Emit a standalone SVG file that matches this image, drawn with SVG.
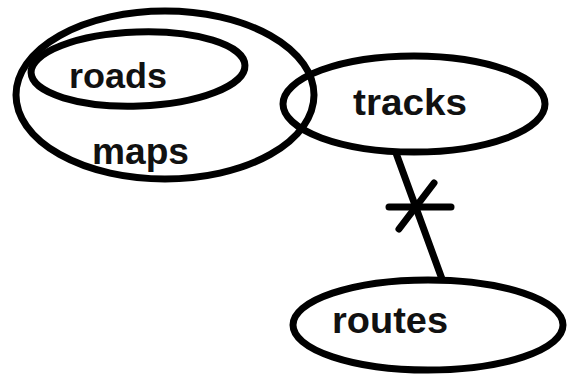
<svg xmlns="http://www.w3.org/2000/svg" width="569" height="376" viewBox="0 0 569 376">
<style>
.e{fill:none;stroke:#000;stroke-width:7}
.t{font-family:"Liberation Sans",Arial,sans-serif;font-weight:bold;fill:#111;}
.c{stroke:#000;stroke-width:7;fill:none;stroke-linecap:round}
</style>
<rect width="569" height="376" fill="#fff"/>
<g id="maps">
<ellipse class="e" cx="165" cy="95" rx="149" ry="84"/>
<text class="t" x="92" y="164" font-size="36" textLength="97" lengthAdjust="spacingAndGlyphs">maps</text>
</g>
<g id="roads">
<ellipse class="e" cx="138" cy="69" rx="107" ry="37" transform="rotate(-2 138 69)"/>
<text class="t" x="69" y="88" font-size="35" textLength="98" lengthAdjust="spacingAndGlyphs">roads</text>
</g>
<g id="tracks">
<ellipse class="e" cx="414" cy="104" rx="131" ry="48"/>
<text class="t" x="353" y="115" font-size="37" textLength="114" lengthAdjust="spacingAndGlyphs">tracks</text>
</g>
<g id="routes">
<ellipse class="e" cx="428" cy="325" rx="135" ry="45"/>
<text class="t" x="332" y="333" font-size="37" textLength="116" lengthAdjust="spacingAndGlyphs">routes</text>
</g>
<g id="connectors">
<line class="c" x1="396" y1="153" x2="442" y2="279"/>
<line class="c" x1="389" y1="207" x2="451" y2="207"/>
<line class="c" x1="399" y1="229" x2="434" y2="183"/>
</g>
</svg>
